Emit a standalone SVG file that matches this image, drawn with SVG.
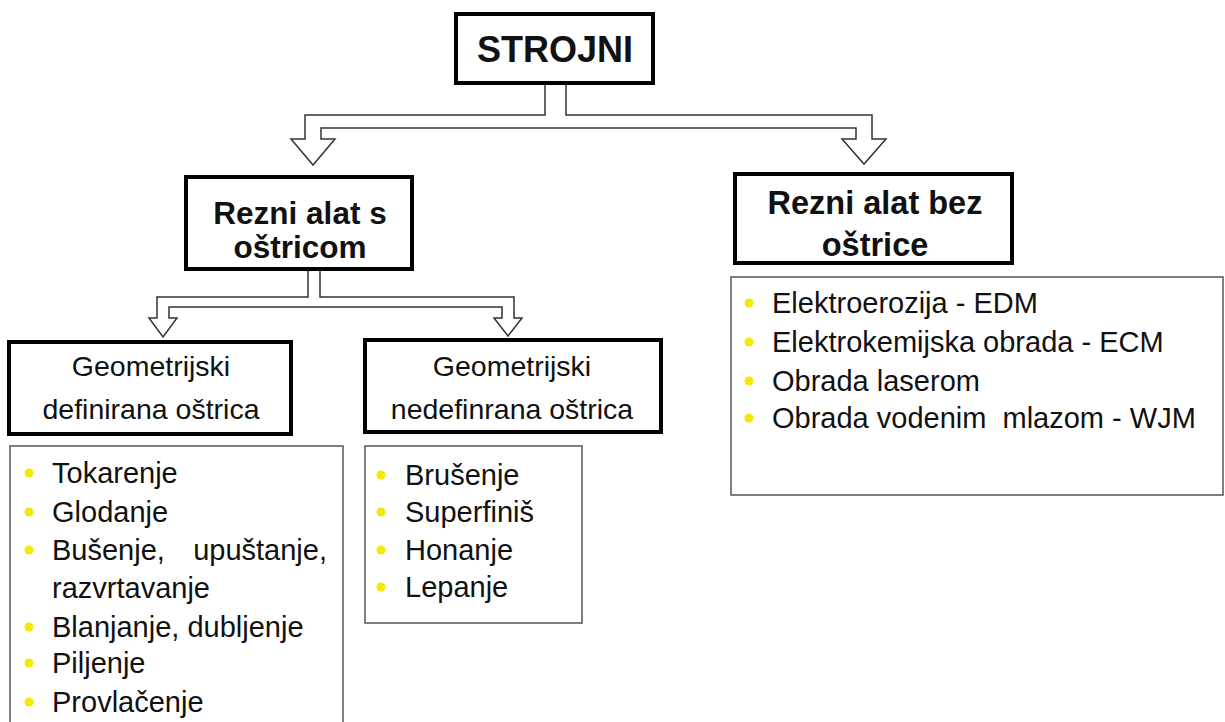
<svg xmlns="http://www.w3.org/2000/svg" width="1225" height="722" viewBox="0 0 1225 722">
<style>
.box{fill:#fff;stroke:#000;stroke-width:4}
.list{fill:#fff;stroke:#555;stroke-width:1.5}
.conn{fill:#fff;stroke:#333;stroke-width:1.5;stroke-linejoin:miter}
.tb{font-family:"Liberation Sans",Arial,sans-serif;font-weight:bold;fill:#111;text-anchor:middle}
.tr{font-family:"Liberation Sans",Arial,sans-serif;font-size:28.5px;fill:#111;text-anchor:middle}
.li{font-family:"Liberation Sans",Arial,sans-serif;font-size:29px;fill:#111;white-space:pre}
.bul{fill:#f2ea00}
</style>
<rect width="1225" height="722" fill="#fff"/>
<g id="connectors">
<path class="conn" d="M545,85 V115 H305 V139 H291 L313,165 L335,139 H321 V128 H856 V139 H842 L864,164 L886,139 H872 V115 H566 V85"/>
<path class="conn" d="M308,271 V297 H157 V318 H149 L163,337 L177,318 H169 V307 H502 V318 H494 L508,336 L522,318 H514 V297 H320 V271"/>
</g>
<g id="strojni">
<rect class="box" x="456" y="14" width="197" height="69"/>
<text class="tb" x="555" y="62" font-size="36">STROJNI</text>
</g>
<g id="rezni-s">
<rect class="box" x="186" y="177" width="226" height="92"/>
<text class="tb" x="300" y="224" font-size="31.5">Rezni alat s</text>
<text class="tb" x="300" y="258" font-size="31.5">oštricom</text>
</g>
<g id="rezni-bez">
<rect class="box" x="735" y="174" width="277" height="89"/>
<text class="tb" x="875" y="214" font-size="32.5">Rezni alat bez</text>
<text class="tb" x="875" y="256" font-size="32.5">oštrice</text>
</g>
<g id="geom-def">
<rect class="box" x="9" y="342" width="282" height="92"/>
<text class="tr" x="151" y="376">Geometrijski</text>
<text class="tr" x="151" y="419">definirana oštrica</text>
</g>
<g id="geom-nedef">
<rect class="box" x="365" y="340" width="296" height="92"/>
<text class="tr" x="512" y="376">Geometrijski</text>
<text class="tr" x="512" y="419">nedefinrana oštrica</text>
</g>
<g id="list-def">
<rect class="list" x="10" y="446" width="333" height="290"/>
<circle class="bul" cx="29" cy="473" r="4.5"/>
<circle class="bul" cx="29" cy="512" r="4.5"/>
<circle class="bul" cx="29" cy="550" r="4.5"/>
<circle class="bul" cx="29" cy="627" r="4.5"/>
<circle class="bul" cx="29" cy="663" r="4.5"/>
<circle class="bul" cx="29" cy="702" r="4.5"/>
<text class="li" x="52" y="483">Tokarenje</text>
<text class="li" x="52" y="522">Glodanje</text>
<text class="li" x="52" y="560">Bušenje,</text>
<text class="li" x="327" y="560" text-anchor="end">upuštanje,</text>
<text class="li" x="52" y="598">razvrtavanje</text>
<text class="li" x="52" y="637">Blanjanje, dubljenje</text>
<text class="li" x="52" y="673">Piljenje</text>
<text class="li" x="52" y="712">Provlačenje</text>
</g>
<g id="list-nedef">
<rect class="list" x="365" y="446" width="217" height="177"/>
<circle class="bul" cx="381" cy="475" r="4.5"/>
<circle class="bul" cx="381" cy="512" r="4.5"/>
<circle class="bul" cx="381" cy="550" r="4.5"/>
<circle class="bul" cx="381" cy="587" r="4.5"/>
<text class="li" x="405" y="485">Brušenje</text>
<text class="li" x="405" y="522">Superfiniš</text>
<text class="li" x="405" y="560">Honanje</text>
<text class="li" x="405" y="597">Lepanje</text>
</g>
<g id="list-bez">
<rect class="list" x="731" y="277" width="492" height="218"/>
<circle class="bul" cx="749" cy="303" r="4.5"/>
<circle class="bul" cx="749" cy="342" r="4.5"/>
<circle class="bul" cx="749" cy="381" r="4.5"/>
<circle class="bul" cx="749" cy="418" r="4.5"/>
<text class="li" x="772" y="313">Elektroerozija - EDM</text>
<text class="li" x="772" y="352">Elektrokemijska obrada - ECM</text>
<text class="li" x="772" y="391">Obrada laserom</text>
<text class="li" x="772" y="428">Obrada vodenim  mlazom - WJM</text>
</g>
</svg>
